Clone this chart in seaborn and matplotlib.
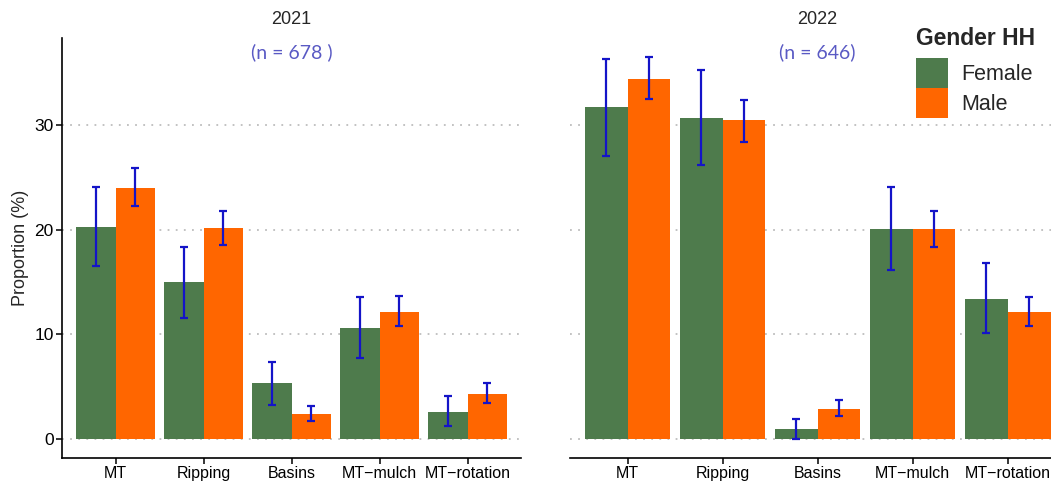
import pandas as pd
import numpy as np
import matplotlib
matplotlib.use("Agg")
import matplotlib.pyplot as plt
import seaborn as sns
from matplotlib.patches import Patch

practices = ["MT", "Ripping", "Basins", "MT\u2212mulch", "MT\u2212rotation"]
genders = ["Female", "Male"]

# 2021 (n = 678)
female_2021 = [20.3, 15.0, 5.3, 10.6, 2.6]
female_2021_lo = [16.5, 11.6, 3.2, 7.7, 1.2]
female_2021_hi = [24.1, 18.4, 7.4, 13.6, 4.1]
male_2021 = [24.0, 20.2, 2.4, 12.1, 4.3]
male_2021_lo = [22.3, 18.5, 1.7, 10.8, 3.4]
male_2021_hi = [25.9, 21.8, 3.1, 13.7, 5.3]

# 2022 (n = 646)
female_2022 = [31.7, 30.7, 0.9, 20.1, 13.4]
female_2022_lo = [27.1, 26.2, 0.0, 16.2, 10.1]
female_2022_hi = [36.3, 35.3, 1.9, 24.1, 16.8]
male_2022 = [34.4, 30.5, 2.9, 20.1, 12.1]
male_2022_lo = [32.5, 28.4, 2.2, 18.4, 10.8]
male_2022_hi = [36.5, 32.4, 3.7, 21.8, 13.6]

years = ["2021", "2022"]
n_labels = ["(n = 678 )", "(n = 646)"]

colors = {"Female": "#4e7b4c", "Male": "#ff6600"}
err_color = "#1414c8"

def make_df(fv, flo, fhi, mv, mlo, mhi):
    return pd.DataFrame({
        "practice": practices * 2,
        "gender": ["Female"] * 5 + ["Male"] * 5,
        "value": fv + mv,
        "lo": flo + mlo,
        "hi": fhi + mhi,
    })

data = {
    "2021": make_df(female_2021, female_2021_lo, female_2021_hi,
                    male_2021, male_2021_lo, male_2021_hi),
    "2022": make_df(female_2022, female_2022_lo, female_2022_hi,
                    male_2022, male_2022_lo, male_2022_hi),
}

sns.set_style("white")
plt.rcParams["font.family"] = ["Liberation Sans", "DejaVu Sans"]

fig = plt.figure(figsize=(10.51, 4.82), dpi=100)
ax1 = fig.add_axes([0.059, 0.0498, 0.437, 0.871])
ax2 = fig.add_axes([0.542, 0.0498, 0.472, 0.871])

for ax, yr, ntxt in zip([ax1, ax2], years, n_labels):
    df = data[yr]
    sns.barplot(data=df, x="practice", y="value", hue="gender", order=practices,
                hue_order=genders, palette=colors, width=0.9, errorbar=None,
                saturation=1, linewidth=0, ax=ax, legend=False)
    for cont, g in zip(ax.containers, genders):
        sub = df[df["gender"] == g].set_index("practice").loc[practices]
        xs = [b.get_x() + b.get_width() / 2 for b in cont]
        ax.errorbar(xs, sub["value"],
                    yerr=[sub["value"] - sub["lo"], sub["hi"] - sub["value"]],
                    fmt="none", ecolor=err_color, elinewidth=1.6, capsize=3.2,
                    capthick=1.6, zorder=5)
    ax.set_xlim(-0.61, 4.61)
    ax.set_ylim(-1.83, 38.33)
    ax.set_yticks([0, 10, 20, 30])
    ax.yaxis.grid(True, linestyle=(0, (1, 3.5)), color="#bdbdbd", linewidth=1.3)
    ax.set_axisbelow(True)
    ax.set_xlabel("")
    ax.set_title(yr, fontsize=13, pad=10)
    ax.text(0.5, 0.967, ntxt, transform=ax.transAxes, ha="center", va="center",
            fontsize=14, color="#5a5ac4", family=["Lato", "DejaVu Sans"])
    for s in ["top", "right"]:
        ax.spines[s].set_visible(False)
    ax.spines["bottom"].set_color("black")
    ax.spines["bottom"].set_linewidth(1.2)
    ax.tick_params(axis="x", length=4, width=1.1, labelsize=11.5, colors="black",
                   bottom=True, pad=2)

ax1.spines["left"].set_color("black")
ax1.spines["left"].set_linewidth(1.2)
ax1.tick_params(axis="y", length=4, width=1.1, labelsize=12.5, colors="black",
                left=True, pad=2)
ax1.set_ylabel("Proportion (%)", fontsize=13, labelpad=4)

ax2.spines["left"].set_visible(False)
ax2.tick_params(axis="y", left=False, labelleft=False)
ax2.set_ylabel("")

handles = [Patch(facecolor=colors[g], edgecolor="none", label=g) for g in genders]
leg = fig.legend(handles=handles, title="Gender HH", loc="upper left",
                 bbox_to_anchor=(0.8575, 0.975), frameon=False, fontsize=15.5,
                 title_fontsize=16.5, handlelength=1.47, handleheight=1.75,
                 handletextpad=0.6, labelspacing=0.0, borderpad=0.2)
leg.get_title().set_fontweight("bold")
leg._legend_box.align = "left"
leg._legend_box.sep = 6

fig.savefig("out.png", dpi=100)
